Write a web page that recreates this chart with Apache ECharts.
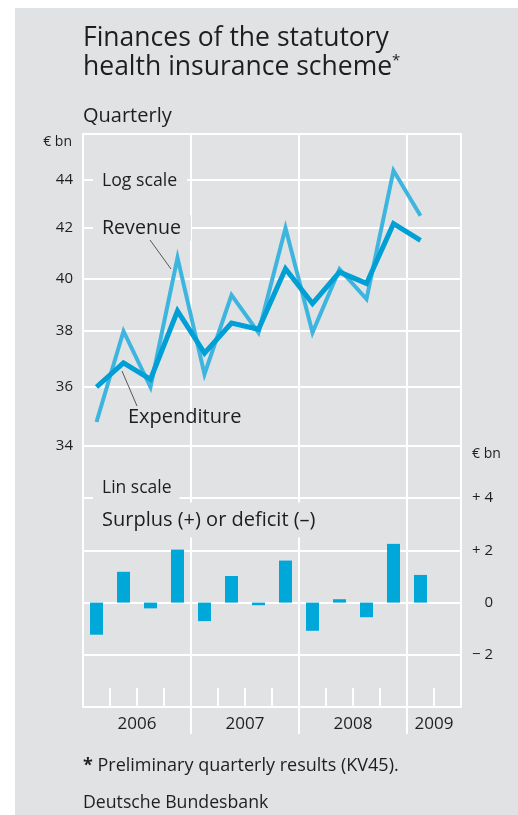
<!DOCTYPE html>
<html>
<head>
<meta charset="utf-8">
<script src="https://cdn.jsdelivr.net/npm/echarts@6/dist/echarts.min.js"></script>
<style>
  html, body { margin: 0; padding: 0; background: #fff; }
  #main {
    width: 518px; height: 815px;
    background: linear-gradient(#e1e2e4, #e1e2e4) 15px 8px / 503px 807px no-repeat, #fff;
  }
</style>
</head>
<body>
<div id="main"></div>
<script>
// quarterly slots (2009 Q2 is an empty slot at the right edge)
const quarters = ['2006 Q1', '2006 Q2', '2006 Q3', '2006 Q4',
  '2007 Q1', '2007 Q2', '2007 Q3', '2007 Q4',
  '2008 Q1', '2008 Q2', '2008 Q3', '2008 Q4',
  '2009 Q1', '2009 Q2'];
const years = ['2006', '2007', '2008', '2009'];
const quartersPerYear = [4, 4, 4, 2];

// € bn, log scale panel
const revenue = [34.8, 38.0, 36.0, 40.8, 36.45, 39.35, 37.95, 42.0, 37.95, 40.35, 39.2, 44.4, 42.5];
const expenditure = [36.0, 36.85, 36.27, 38.75, 37.2, 38.3, 38.07, 40.37, 39.03, 40.24, 39.8, 42.17, 41.5];
// € bn, lin scale panel
const balance = [-1.23, 1.18, -0.22, 2.03, -0.71, 1.02, -0.1, 1.61, -1.08, 0.13, -0.56, 2.25, 1.06];

const logTicks = [34, 36, 38, 40, 42, 44];

const FONT = '"Open Sans", sans-serif';
const TXT = '#1e1e1e';
const BG = '#e1e2e4';
const WHITE = { color: '#fff', width: 2 };

// year boundaries / centers on the quarter scale
const yearStarts = [];
const yearCenters = [];
let acc = 0;
quartersPerYear.forEach(n => {
  yearStarts.push(acc);
  yearCenters.push(acc + n / 2);
  acc += n;
});
const yearBounds = yearStarts.slice(1);

const myChart = echarts.init(document.getElementById('main'));

function txt(text, x, y, size, extra) {
  return {
    type: 'text', x: x, y: y, z: 100,
    style: Object.assign({
      text: text, fill: TXT, fontSize: size, fontFamily: FONT,
      verticalAlign: 'middle', align: 'left'
    }, extra || {})
  };
}

const option = {
  animation: false,
  textStyle: { fontFamily: FONT, color: TXT },
  grid: [
    { left: 83, right: 57, top: 134, height: 312, show: true, borderColor: '#fff', borderWidth: 2, backgroundColor: 'transparent' },
    { left: 83, right: 57, top: 446, height: 261, show: true, borderColor: '#fff', borderWidth: 2, backgroundColor: 'transparent' },
    { left: 83, right: 57, top: 706, height: 1, show: false }
  ],
  xAxis: [
    {
      gridIndex: 0, type: 'category', data: quarters, boundaryGap: true,
      axisLine: { show: false, onZero: false }, axisTick: { show: false }, axisLabel: { show: false },
      splitLine: { show: true, interval: (i) => yearStarts.indexOf(i) >= 0, lineStyle: WHITE }
    },
    {
      gridIndex: 1, type: 'category', data: quarters, boundaryGap: true,
      axisLine: { show: false, onZero: false }, axisLabel: { show: false },
      axisTick: { show: true, inside: true, length: 19, interval: 0, lineStyle: WHITE },
      splitLine: { show: true, interval: (i) => yearStarts.indexOf(i) >= 0, lineStyle: WHITE }
    },
    {
      gridIndex: 2, type: 'value', min: 0, max: quarters.length,
      axisLine: { show: false, onZero: false }, splitLine: { show: false },
      axisTick: { show: true, length: 27, customValues: yearBounds, lineStyle: WHITE },
      axisLabel: {
        customValues: yearCenters, margin: 9, fontSize: 17, color: TXT,
        formatter: (v) => years[yearCenters.indexOf(v)]
      }
    }
  ],
  yAxis: [
    {
      gridIndex: 0, type: 'value', min: Math.log(34), max: Math.log(46),
      axisLine: { show: false },
      axisTick: { show: false, customValues: logTicks.map(Math.log) },
      axisLabel: {
        customValues: logTicks.map(Math.log), margin: 10, fontSize: 15, color: TXT,
        formatter: (v) => String(Math.round(Math.exp(v)))
      },
      splitLine: { show: true, lineStyle: WHITE }
    },
    {
      gridIndex: 1, type: 'value', position: 'right', min: -4, max: 6, interval: 2,
      axisLine: { show: false }, axisTick: { show: false },
      axisLabel: {
        showMinLabel: false, showMaxLabel: false, align: 'right', margin: 32,
        fontSize: 15, color: TXT,
        formatter: (v) => v > 0 ? '+ ' + v : (v < 0 ? '\u2212 ' + (-v) : '0')
      },
      splitLine: { show: true, lineStyle: WHITE }
    },
    { gridIndex: 2, type: 'value', show: false }
  ],
  series: [
    {
      name: 'Revenue', type: 'line', xAxisIndex: 0, yAxisIndex: 0,
      data: revenue.map(Math.log), symbol: 'none', z: 3,
      lineStyle: { color: '#3db5df', width: 4, join: 'miter' }
    },
    {
      name: 'Expenditure', type: 'line', xAxisIndex: 0, yAxisIndex: 0,
      data: expenditure.map(Math.log), symbol: 'none', z: 4,
      lineStyle: { color: '#009fd5', width: 5, join: 'miter' }
    },
    {
      name: 'Surplus or deficit', type: 'bar', xAxisIndex: 1, yAxisIndex: 1,
      data: balance, barWidth: 13,
      itemStyle: { color: '#00a8d9' }
    }
  ],
  graphic: [
    txt('Finances of the statutory', 83, 38, 26.5),
    txt('health insurance scheme{s|*}', 83, 67, 26.5, {
      rich: { s: { fontSize: 15, fontFamily: FONT, fill: TXT, verticalAlign: 'top' } }
    }),
    txt('Quarterly', 83, 116, 20),
    txt('\u20ac bn', 72, 142, 14, { align: 'right' }),
    txt('\u20ac bn', 472, 454, 14),
    txt('Log scale', 93, 180.5, 17.7, { backgroundColor: BG, padding: [3, 10, 3, 9] }),
    txt('Revenue', 93, 228, 19.6, { backgroundColor: BG, padding: [3, 10, 3, 9] }),
    txt('Expenditure', 128, 417, 20),
    txt('Lin scale', 93, 488, 17.5, { backgroundColor: BG, padding: [4, 8, 6, 9] }),
    txt('Surplus (+) or deficit (\u2013)', 93, 520, 20, { backgroundColor: BG, padding: [7, 12, 8, 9] }),
    {
      type: 'line', z: 100, shape: { x1: 150, y1: 240, x2: 171, y2: 269 },
      style: { stroke: '#333', lineWidth: 0.8 }
    },
    {
      type: 'line', z: 100, shape: { x1: 137, y1: 406, x2: 122, y2: 371 },
      style: { stroke: '#333', lineWidth: 0.8 }
    },
    txt('{b|*} Preliminary quarterly results (KV45).', 83, 765.5, 18, {
      rich: { b: { fontSize: 18, fontFamily: FONT, fill: TXT, fontWeight: 'bold' } }
    }),
    txt('Deutsche Bundesbank', 83, 803, 17.7)
  ]
};

myChart.setOption(option);
</script>
</body>
</html>
